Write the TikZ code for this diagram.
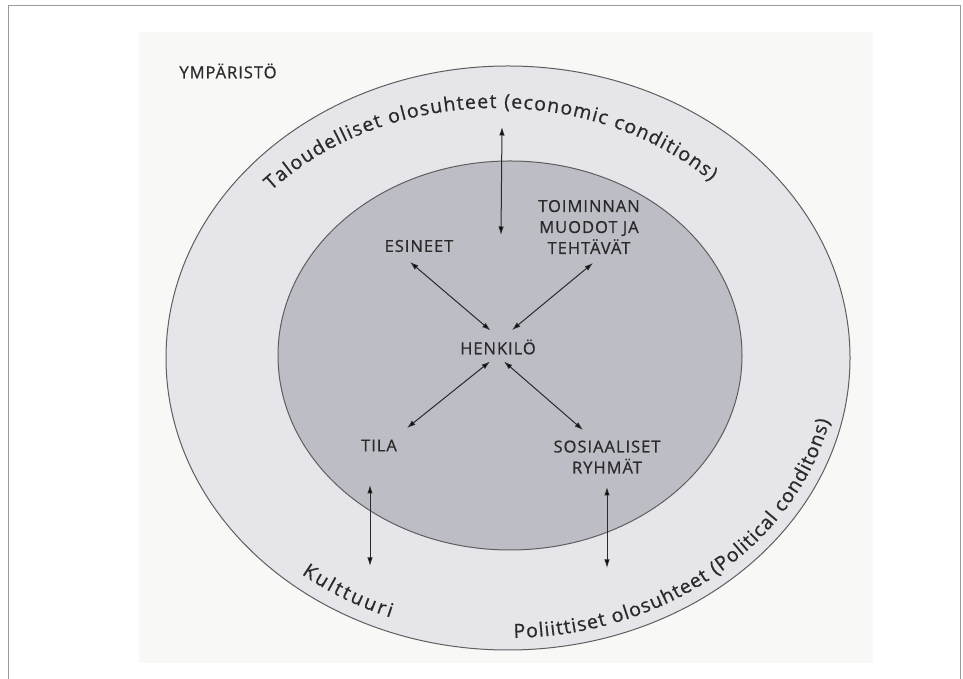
\documentclass[tikz,border=0pt]{standalone}
\usepackage{fontspec}
\setmainfont{Open Sans}
\newfontfamily\lblfont[LetterSpace=6,FakeBold=0.7]{Open Sans}
\newfontfamily\ringfont[FakeBold=0.7]{Open Sans}
\usetikzlibrary{arrows.meta,decorations.text,calc}
\definecolor{pagebg}{HTML}{F8F8F7}
\definecolor{ringfill}{HTML}{E6E6EA}
\definecolor{corefill}{HTML}{BDBDC5}
\definecolor{edgecol}{HTML}{5E5E5E}
\definecolor{ink}{HTML}{2A2A2A}
\definecolor{framecol}{HTML}{9A9A9A}
\begin{document}
\begin{tikzpicture}[x=1pt,y=1pt,
  lbl/.style={font=\lblfont\fontsize{16.5}{21}\selectfont, text=ink, align=center, inner sep=0pt},
  arr/.style={{Latex[length=8.5pt,width=5.5pt]}-{Latex[length=8.5pt,width=5.5pt]}, draw=ink, line width=1pt},
  ringtext/.style={decorate, decoration={text along path, text align={fit to path}, text color=ink,
      text={|\ringfont\fontsize{19.5}{21}\selectfont|#1}}}
]
\useasboundingbox (0,0) rectangle (963,679);
\fill[white] (0,0) rectangle (963,679);
\draw[framecol, line width=1pt] (8,0) -- (8,673) -- (960,673) -- (960,0);
\fill[pagebg] (139,16) rectangle (873,647);

% rings
\draw[draw=edgecol, fill=ringfill, line width=1pt] (508,321) ellipse [x radius=342pt, y radius=292pt];
\draw[draw=edgecol, fill=corefill, line width=1pt] (510,323.5) ellipse [x radius=232pt, y radius=194.5pt];

% texts along the outer ring
\path[ringtext={Taloudelliset olosuhteet (economic conditions)}]
  ([shift={(138:303pt and 250pt)}]496.5,321) arc[start angle=138, end angle=45, x radius=303pt, y radius=250pt];
\path[ringtext={Kulttuuri}]
  ([shift={(231:328pt and 278pt)}]508,321) arc[start angle=231, end angle=249, x radius=328pt, y radius=278pt];
\path[ringtext={Poliittiset olosuhteet (Political conditons)}]
  ([shift={(271:330pt and 280pt)}]508,321) arc[start angle=271, end angle=347, x radius=330pt, y radius=280pt];

% labels
\node[lbl] (ymp) at (228,608) {YMPÄRISTÖ};
\node[lbl] (esineet) at (419,433) {ESINEET};
\node[lbl] (toim) at (589,452) {TOIMINNAN\\MUODOT JA\\TEHTÄVÄT};
\node[lbl] (henk) at (498,332) {HENKILÖ};
\node[lbl] (tila) at (379,233.5) {TILA};
\node[lbl] (sos) at (607,222) {SOSIAALISET\\RYHMÄT};

% arrow end points
\coordinate (econ) at (502,552);
\coordinate (econIn) at (501,444);
\coordinate (eA) at (410,417);
\coordinate (eB) at (490.5,348.5);
\coordinate (tA) at (593,416);
\coordinate (tB) at (512,349);
\coordinate (lA) at (490,317.5);
\coordinate (lB) at (407,251);
\coordinate (rA) at (504,317.5);
\coordinate (rB) at (583,249);
\coordinate (kA) at (370,194);
\coordinate (kB) at (370,113);
\coordinate (pA) at (607,192);
\coordinate (pB) at (607,111);

\draw[arr] (econ) -- (econIn);
\draw[arr] (eA) -- (eB);
\draw[arr] (tA) -- (tB);
\draw[arr] (lA) -- (lB);
\draw[arr] (rA) -- (rB);
\draw[arr] (kA) -- (kB);
\draw[arr] (pA) -- (pB);
\end{tikzpicture}
\end{document}
